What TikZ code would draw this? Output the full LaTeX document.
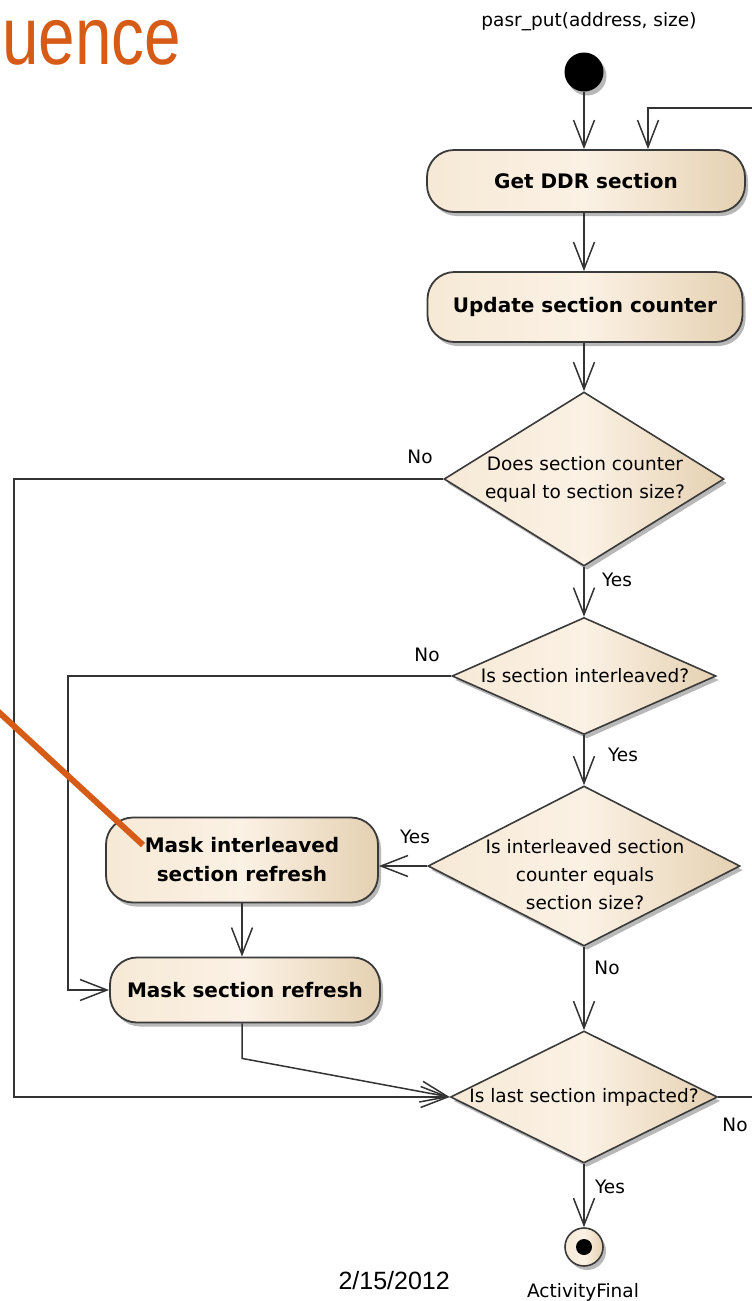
\documentclass[tikz,border=0pt]{standalone}
\usepackage{fontspec}
\setmainfont{DejaVu Sans}
\newfontfamily\arialfont{Liberation Sans}
\newfontfamily\boldfont{DejaVu Sans Bold}
\usetikzlibrary{arrows.meta,shapes.geometric,shadows}

\definecolor{boxl}{HTML}{F6E9D6}
\definecolor{boxm}{HTML}{FBF1E4}
\definecolor{boxr}{HTML}{E5D1B2}
\definecolor{edgec}{HTML}{3A3A3A}
\definecolor{linec}{HTML}{333333}
\definecolor{accent}{HTML}{D65B17}

\tikzset{
  boxshadow/.style={drop shadow={shadow xshift=3pt, shadow yshift=-4pt, fill=black, opacity=.28}},
  act/.style={rectangle, rounded corners=27pt, draw=edgec, line width=1.8pt,
    left color=boxl, right color=boxr, middle color=boxm, boxshadow,
    font=\boldfont\fontsize{20}{29}\selectfont, align=center, inner sep=0pt},
  dec/.style={diamond, draw=edgec, line width=1.6pt, inner sep=0pt,
    left color=boxl, right color=boxr, middle color=boxm, boxshadow},
  dtext/.style={font=\fontsize{18.5}{28}\selectfont, align=center, inner sep=0pt},
  guard/.style={font=\fontsize{18.5}{22}\selectfont, inner sep=0pt},
  flow/.style={draw=linec, line width=1.5pt, -{Straight Barb[length=27pt,width=21pt]}},
}

\begin{document}
\begin{tikzpicture}[x=1pt,y=-1pt]
\fill[white] (0,0) rectangle (752,1301);
\clip (0,0) rectangle (752,1301);

% slide title fragment and pointer
\node[anchor=base east, inner sep=0pt, text=accent,
      font=\arialfont\fontsize{82}{82}\selectfont] (title) at (181,64) {\scalebox{0.8}[1]{uence}};
\coordinate (ptrstart) at (-10,704);
\coordinate (ptrend) at (143,845);

% start node
\node[guard] (calltext) at (589,22) {pasr\_put(address, size)};
\node[circle, fill=black, minimum size=39pt, inner sep=0pt, boxshadow] (init) at (584,72) {};

% actions
\node[act, minimum width=318pt, minimum height=62pt] (get) at (586,181) {Get DDR section};
\node[act, minimum width=315pt, minimum height=70pt] (upd) at (585,307) {Update section counter};

% decisions
\node[dec, minimum width=280pt, minimum height=174pt] (d1) at (584,479) {};
\node[dtext] (d1t) at (585,479) {Does section counter\\equal to section size?};

\node[dec, minimum width=264pt, minimum height=117pt] (d2) at (584,676) {};
\node[dtext] (d2t) at (585,676) {Is section interleaved?};

\node[dec, minimum width=312pt, minimum height=160pt] (d3) at (584,866) {};
\node[dtext] (d3t) at (585,875) {Is interleaved section\\counter equals\\section size?};

\node[act, minimum width=272pt, minimum height=85pt] (mi) at (242,860) {Mask interleaved\\section refresh};
\node[act, minimum width=270pt, minimum height=65pt] (ms) at (245,990) {Mask section refresh};

\node[dec, minimum width=267pt, minimum height=132pt] (d4) at (584,1097) {};
\node[dtext] (d4t) at (584,1097) {Is last section impacted?};

% final node
\node[circle, draw=edgec, line width=1.6pt, minimum size=38pt, inner sep=0pt,
      left color=boxl, right color=boxr, middle color=boxm, boxshadow] (fin) at (584,1247) {};
\fill[black] (fin.center) circle (8);
\node[guard] (fintext) at (583,1292) {ActivityFinal};

% date footer
\node[anchor=base east, inner sep=0pt, font=\arialfont\fontsize{25}{25}\selectfont] (date) at (450,1289) {2/15/2012};

% guards
\node[guard] (no1) at (420,457) {No};
\node[guard] (yes1) at (617,580) {Yes};
\node[guard] (no2) at (427,655) {No};
\node[guard] (yes2) at (623,755) {Yes};
\node[guard] (yes3) at (415,837) {Yes};
\node[guard] (no3) at (607,968) {No};
\node[guard] (yes4) at (610,1187) {Yes};
\node[guard] (no4) at (735,1125) {No};

% control flow
\coordinate (loopin) at (648,108);
\coordinate (loopout) at (775,108);
\draw[flow] (init.south) -- (init.south |- get.north);
\draw[flow] (d4.east) -- (d4.east -| loopout) -- (loopout) -- (loopin) -- (loopin |- get.north);
\draw[flow] (get.south -| init) -- (init |- upd.north);
\draw[flow] (upd.south -| init) -- (d1.north);
\draw[flow] (d1.south) -- (d2.north);
\draw[flow] (d2.south) -- (d3.north);
\draw[flow] (d3.south) -- (d4.north);
\draw[flow] (d4.south) -- (fin.north);
\draw[flow] (d1.west) -- (14,479) |- (d4.west);
\draw[flow] (d2.west) -- (68,676) |- (ms.west);
\draw[flow] (d3.west) -- (d3.west -| mi.east);
\draw[flow] (mi.south) -- (mi.south |- ms.north);
\draw[flow] (mi.south |- ms.south) -- ++(0,35) -- (d4.west);

% pointer stroke
\draw[accent, line width=6pt] (ptrstart) -- (ptrend);
\end{tikzpicture}
\end{document}
